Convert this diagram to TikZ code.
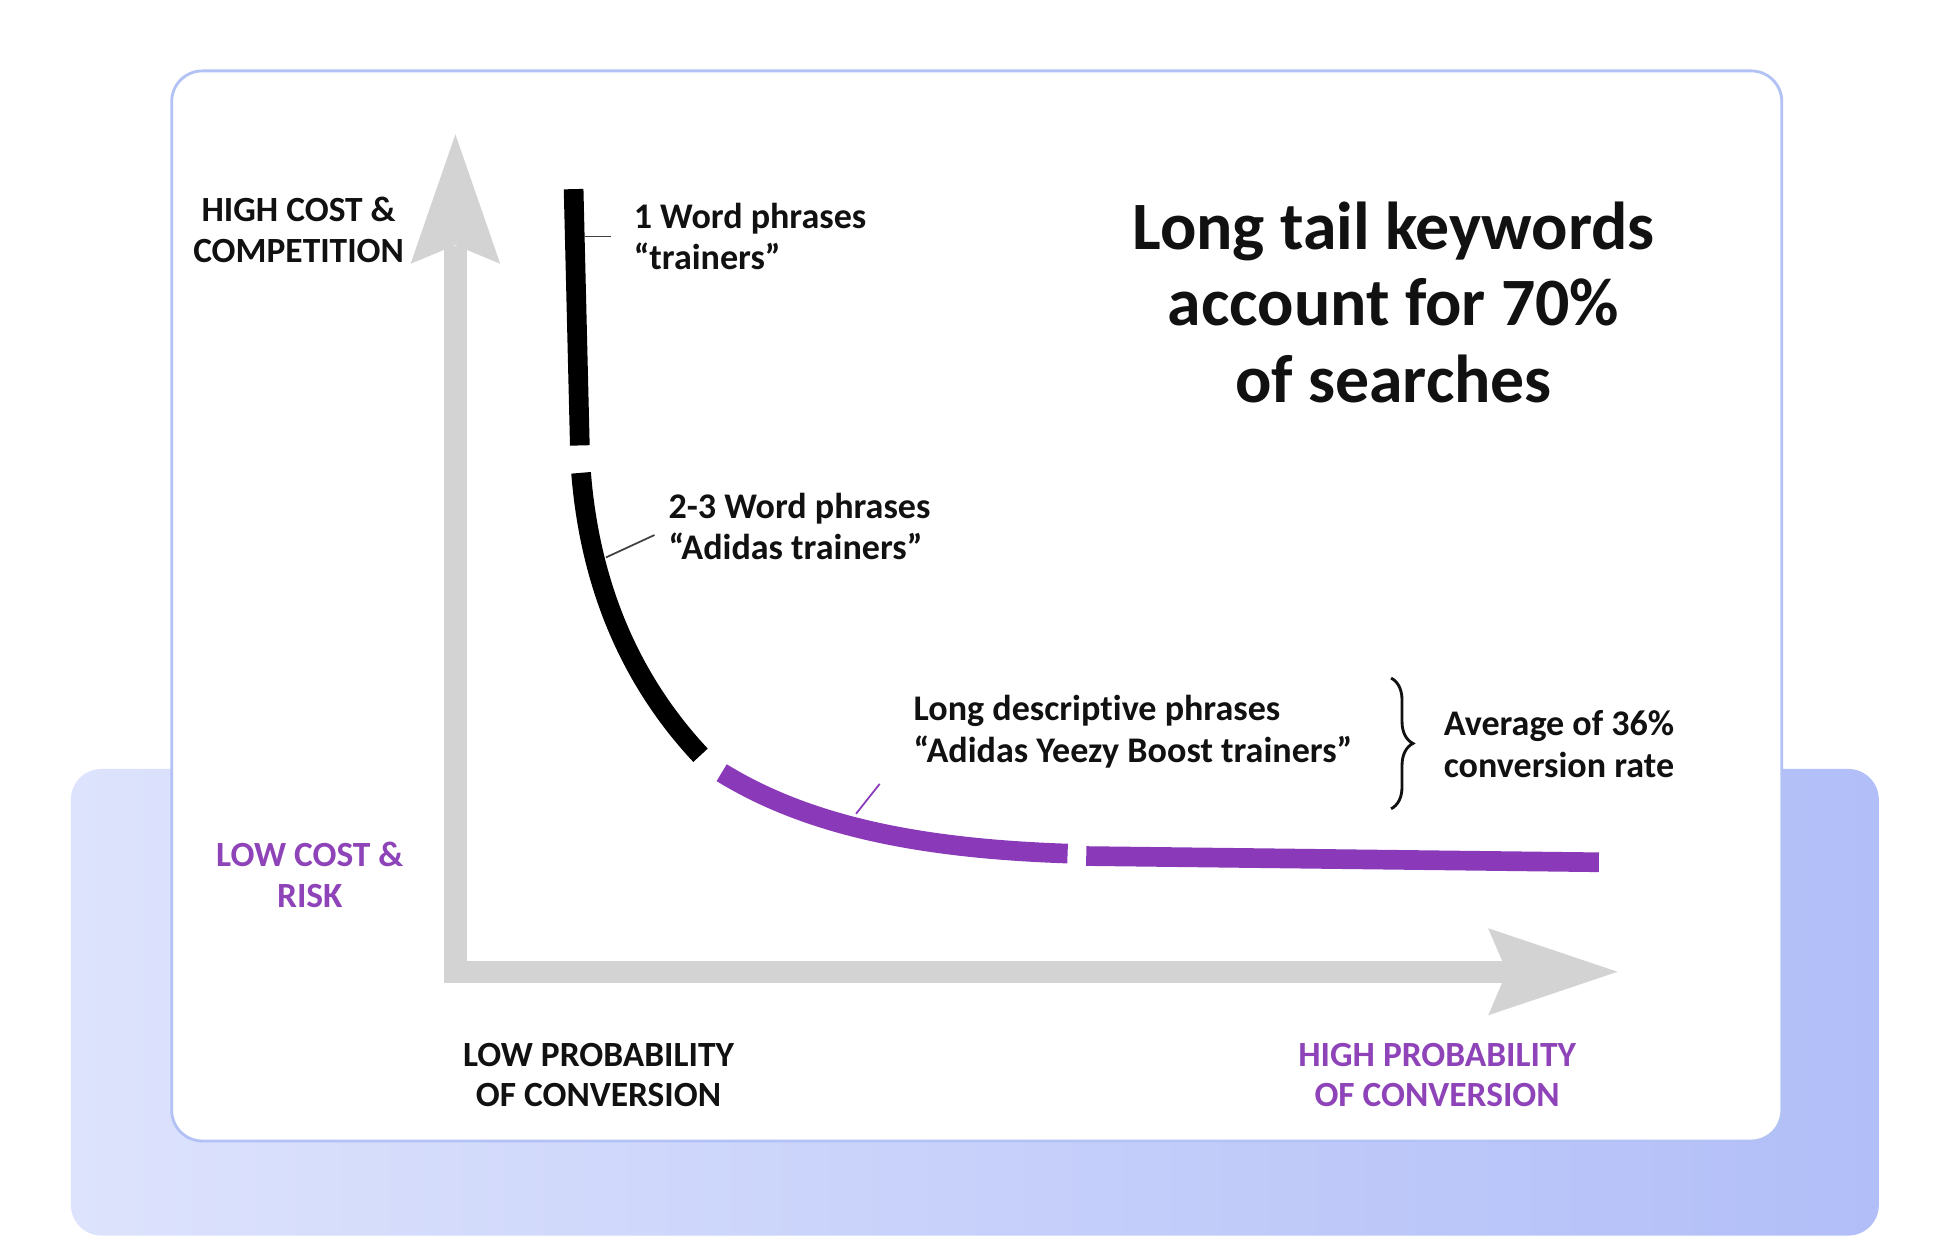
\documentclass[tikz,border=0pt]{standalone}
\usepackage{fontspec}
\setmainfont{Carlito}[Ligatures=CommonOff]
\usetikzlibrary{decorations.pathreplacing}
\definecolor{cardline}{HTML}{B3C2F5}
\definecolor{lavL}{HTML}{DDE3FC}
\definecolor{lavR}{HTML}{B1BEF8}
\definecolor{axisgray}{HTML}{D3D3D3}
\definecolor{curvepurple}{HTML}{8A3AB9}
\definecolor{textpurple}{HTML}{8E44B8}
\definecolor{ink}{HTML}{111111}
\begin{document}
\begin{tikzpicture}[x=0.02cm,y=-0.02cm,
  lbl/.style={font=\fontsize{16.5}{19}\selectfont\bfseries, text=ink, align=left, inner sep=0pt},
  capl/.style={font=\fontsize{16.2}{18.7}\selectfont\bfseries, text=ink, align=center, inner sep=0pt},
  titl/.style={font=\fontsize{31}{35}\selectfont\bfseries, text=ink, align=center, inner sep=0pt},
  blackseg/.style={line width=9pt, black},
  purpleseg/.style={line width=9pt, curvepurple},
  leader/.style={line width=0.8pt, ink!80},
]
\useasboundingbox (0,0) rectangle (1568,1003);
\fill[white] (0,0) rectangle (1568,1003);
% background lavender panel
\shade[left color=lavL, right color=lavR, rounded corners=14pt] (57,618) rectangle (1510,993);
% white card
\draw[cardline, line width=1.3pt, fill=white, rounded corners=14pt] (138,57) rectangle (1432,917);
% axes
\fill[axisgray] (357,198) rectangle (375,790);
\fill[axisgray] (357,772) rectangle (1212,790);
\fill[axisgray] (366,108) -- (402,212) -- (366,197) -- (330,212) -- cycle;
\fill[axisgray] (1300,781) -- (1196,816) -- (1211,781) -- (1196,746) -- cycle;
% curve segments
\draw[blackseg] (461,152) -- (466,358);
\draw[blackseg] (467,380) .. controls (474,468) and (505,545) .. (563,607);
\draw[purpleseg] (580,621) .. controls (650,664) and (740,682) .. (858,686);
\draw[purpleseg] (873,688) -- (1285,693);
% labels
\node[lbl, anchor=west] (w1) at (509,190) {1 Word phrases\\“trainers”};
\node[lbl, anchor=west] (w23) at (537,423) {2-3 Word phrases\\“Adidas trainers”};
\node[lbl, anchor=west] (wlong) at (734,588) {Long descriptive phrases\\“Adidas Yeezy Boost trainers”};
\node[lbl, anchor=west] (avg) at (1160,598) {Average of 36\%\\conversion rate};
\node[titl] (title) at (1120,243) {Long tail keywords\\account for 70\%\\of searches};
\node[capl] (hc) at (240,185) {HIGH COST \&\\COMPETITION};
\node[capl, text=textpurple] (lc) at (249,703) {LOW COST \&\\RISK};
\node[capl] (lp) at (481,864) {LOW PROBABILITY\\OF CONVERSION};
\node[capl, text=textpurple] (hp) at (1155,864) {HIGH PROBABILITY\\OF CONVERSION};
% leader lines
\coordinate (l1a) at (470,190); \coordinate (l1b) at (491,190);
\draw[leader] (l1a) -- (l1b);
\coordinate (l2a) at (487,448); \coordinate (l2b) at (526,430);
\draw[leader] (l2a) -- (l2b);
\coordinate (l3a) at (688,654); \coordinate (l3b) at (707,630);
\draw[leader, curvepurple] (l3a) -- (l3b);
% brace
\coordinate (bra) at (1118,545); \coordinate (brb) at (1118,650);
\draw[decorate, decoration={brace, amplitude=10pt}, line width=1.3pt, ink] (bra) -- (brb);
\end{tikzpicture}
\end{document}
